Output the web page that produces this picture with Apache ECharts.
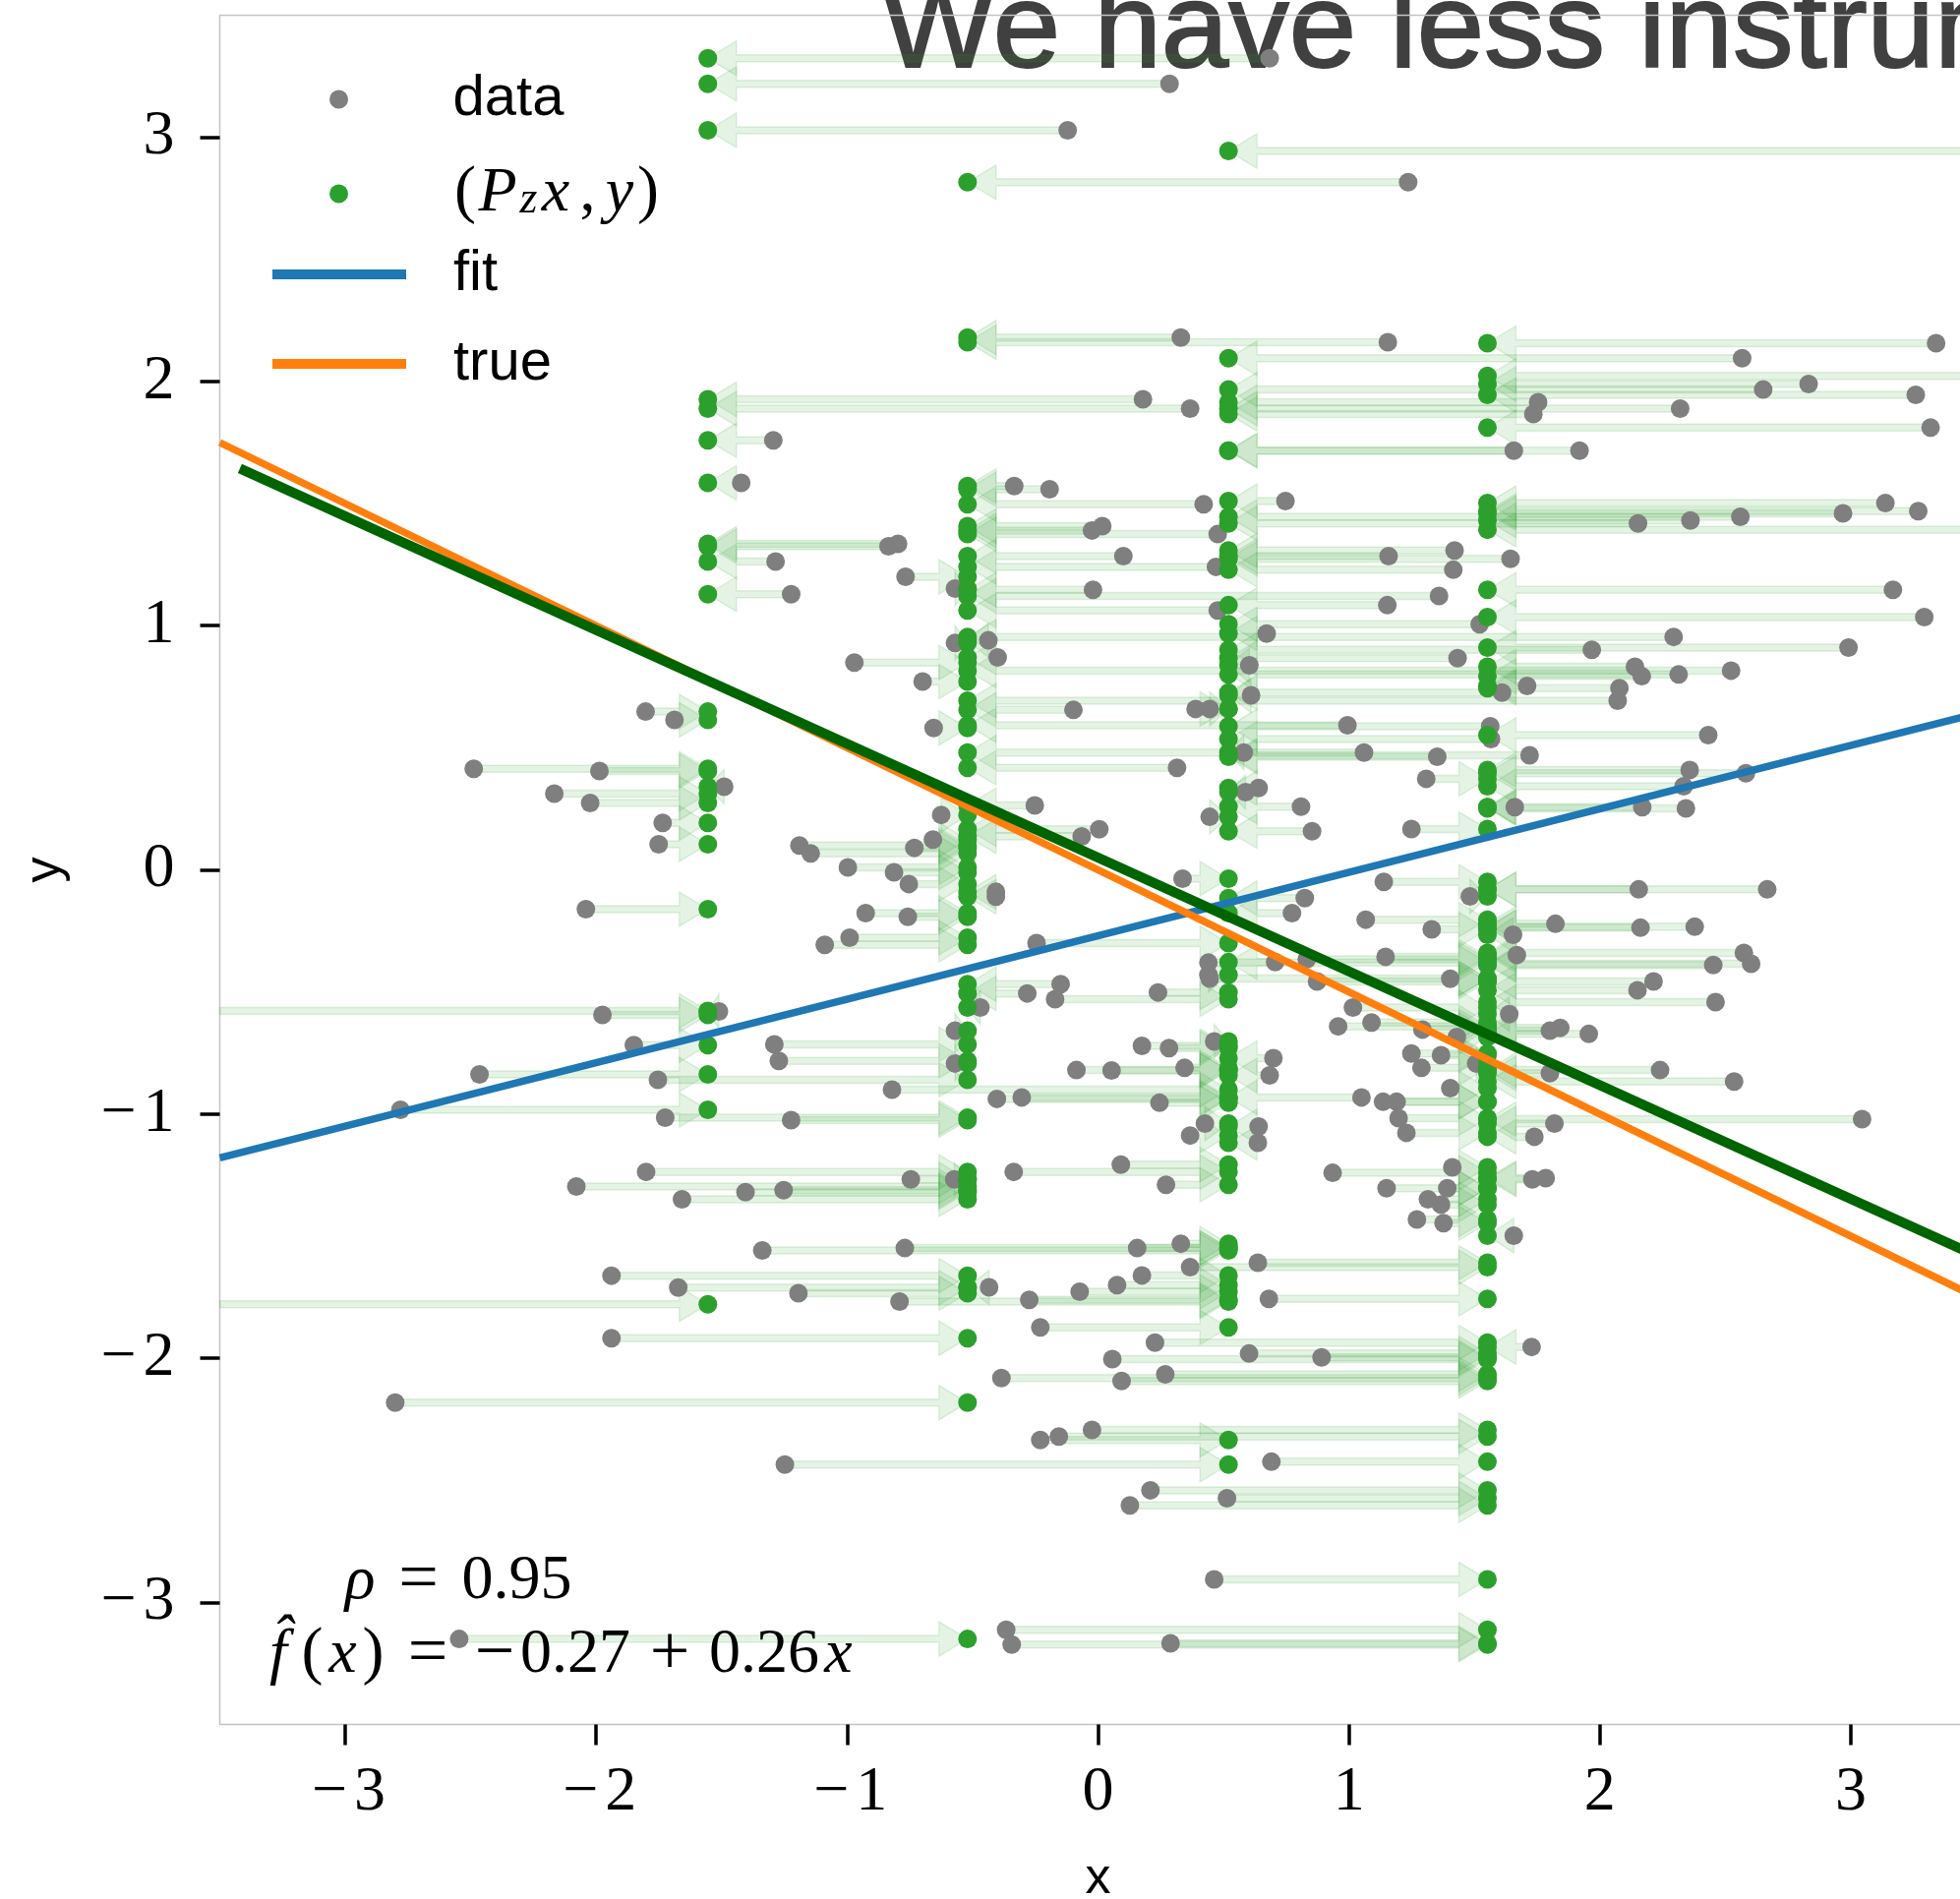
<!DOCTYPE html>
<html>
<head>
<meta charset="utf-8">
<script src="https://cdn.jsdelivr.net/npm/echarts@6/dist/echarts.min.js"></script>
<style>
  html, body { margin: 0; padding: 0; background: #ffffff; }
  #chart { width: 1993px; height: 1931px; }
</style>
</head>
<body>
<div id="chart"></div>
<script>
// Instrument levels: every observation is projected onto one of these x values (P_z x)
const levels = [-1.555, -0.52, 0.52, 1.552];

// Observations (x, y), grouped by the level their projection lands on
const groupA = [
  [0.684, 3.324], [0.285, 3.219], [-0.121, 3.029], [0.179, 1.927], [0.367, 1.889],
  [-1.294, 1.759], [-1.422, 1.585], [-0.835, 1.325], [-0.797, 1.335], [-1.285, 1.263],
  [-1.223, 1.129], [-1.803, 0.648], [-1.688, 0.614], [-2.488, 0.414], [-1.987, 0.405],
  [-1.49, 0.34], [-2.167, 0.312], [-2.024, 0.274], [-1.735, 0.192], [-1.751, 0.105],
  [-2.041, -0.161], [-3.75, -0.578], [-1.975, -0.594], [-1.511, -0.58], [-1.85, -0.718],
  [-2.465, -0.838], [-2.78, -0.983], [-3.8, -1.779]
];
const groupB = [
  [1.236, 2.816], [0.33, 2.18], [1.155, 2.161],
  [-0.334, 1.572], [-0.193, 1.559], [0.421, 1.497], [0.017, 1.408], [-0.024, 1.39],
  [0.477, 1.375], [0.101, 1.285], [0.47, 1.241], [-0.767, 1.2], [-0.57, 1.152],
  [-0.02, 1.147], [1.359, 1.122], [0.477, 1.062], [-0.437, 0.94], [-0.57, 0.929],
  [2.294, 0.954], [-0.4, 0.87], [-0.971, 0.849], [2.523, 0.816], [-0.699, 0.771],
  [2.071, 0.693], [-0.098, 0.655], [-0.655, 0.581], [0.994, 0.592], [1.06, 0.48],
  [0.315, 0.418], [-0.252, 0.264], [-0.625, 0.225], [0.005, 0.166], [-0.065, 0.137],
  [-0.658, 0.124], [-0.732, 0.09], [-1.19, 0.1], [-1.145, 0.067], [-0.997, 0.01],
  [-0.813, -0.01], [-0.754, -0.058], [-0.407, -0.09], [-0.407, -0.11], [-0.926, -0.177],
  [-0.758, -0.192], [-0.99, -0.278], [-1.089, -0.307], [-0.149, -0.468], [-0.282, -0.506],
  [-0.469, -0.564], [-0.57, -0.659], [-1.29, -0.715], [-1.272, -0.782], [-0.57, -0.793],
  [-1.754, -0.86], [-1.725, -1.015], [-1.223, -1.025], [-1.801, -1.237], [-0.746, -1.268],
  [-0.573, -1.268], [-2.079, -1.297], [-1.253, -1.312], [-1.405, -1.32], [-1.658, -1.349],
  [-1.939, -1.662], [-1.673, -1.711], [-0.434, -1.71], [-1.194, -1.734], [-1.939, -1.918],
  [-2.801, -2.182], [-2.546, -3.15]
];
const groupC = [
  [3.7, 2.944], [2.567, 2.095], [2.651, 1.967], [1.754, 1.915], [2.32, 1.889],
  [1.735, 1.867], [1.657, 1.717], [1.919, 1.717], [0.747, 1.51], [2.56, 1.446],
  [2.152, 1.419], [1.421, 1.308], [1.158, 1.285], [1.644, 1.274], [1.416, 1.229],
  [1.153, 1.084], [1.521, 1.006], [0.672, 0.968], [1.968, 0.901], [1.433, 0.867],
  [0.603, 0.838], [2.314, 0.8], [1.61, 0.726], [0.61, 0.715], [0.445, 0.659],
  [0.389, 0.659], [1.563, 0.588], [1.566, 0.536], [0.581, 0.48], [1.72, 0.469],
  [1.352, 0.463], [0.64, 0.335], [0.588, 0.318], [0.809, 0.259], [0.445, 0.217],
  [0.853, 0.158], [0.337, -0.036], [0.824, -0.116], [0.773, -0.177], [-0.245, -0.3],
  [0.706, -0.378], [0.44, -0.43], [0.239, -0.502], [-0.171, -0.53], [0.463, -0.703],
  [0.175, -0.721], [0.283, -0.73], [0.699, -0.771], [0.345, -0.811], [-0.086, -0.82],
  [0.054, -0.822], [0.684, -0.842], [-0.821, -0.9], [-0.403, -0.938], [-0.304, -0.932],
  [1.05, -0.932], [0.245, -0.954], [0.426, -1.039], [0.64, -1.051], [0.367, -1.088],
  [0.637, -1.118], [0.091, -1.207], [-0.336, -1.237], [0.271, -1.29], [0.33, -1.531],
  [-0.77, -1.549], [0.156, -1.549], [-1.338, -1.559], [0.175, -1.661], [-0.073, -1.728],
  [0.076, -1.701], [-0.274, -1.761], [-0.791, -1.768], [-0.23, -1.874], [-0.23, -2.335],
  [-1.248, -2.436]
];
const groupD = [
  [3.34, 2.157], [3.9, 2.023], [2.832, 1.99], [3.259, 1.945], [3.318, 1.811],
  [3.138, 1.502], [3.269, 1.469], [2.969, 1.46], [2.361, 1.431], [3.8, 1.393],
  [3.168, 1.147], [3.293, 1.035], [2.991, 0.91], [2.14, 0.832], [2.167, 0.793],
  [1.71, 0.753], [2.078, 0.744], [2.432, 0.552], [2.358, 0.409], [2.582, 0.396],
  [1.308, 0.373], [2.334, 0.342], [1.661, 0.257], [2.169, 0.257], [2.343, 0.252],
  [1.249, 0.167], [1.139, -0.049], [2.155, -0.08], [2.667, -0.08], [1.482, -0.109],
  [1.067, -0.204], [1.823, -0.221], [2.378, -0.233], [2.162, -0.237], [1.33, -0.244],
  [1.654, -0.266], [2.574, -0.34], [1.669, -0.349], [1.146, -0.356], [0.832, -0.367],
  [0.44, -0.38], [2.603, -0.385], [2.452, -0.39], [0.445, -0.445], [1.404, -0.446],
  [0.873, -0.457], [2.214, -0.457], [2.15, -0.493], [2.461, -0.542], [1.016, -0.564],
  [1.639, -0.591], [1.09, -0.625], [0.957, -0.641], [1.842, -0.647], [1.293, -0.654],
  [1.801, -0.659], [1.956, -0.672], [1.43, -0.685], [1.249, -0.752], [1.367, -0.759],
  [1.507, -0.793], [1.289, -0.811], [2.24, -0.82], [1.801, -0.833], [2.535, -0.867],
  [1.404, -0.894], [1.136, -0.95], [1.19, -0.95], [1.198, -1.017], [3.045, -1.021],
  [1.819, -1.039], [1.229, -1.077], [1.739, -1.093], [1.412, -1.218], [0.935, -1.241],
  [1.784, -1.263], [1.731, -1.268], [1.15, -1.304], [1.392, -1.304], [1.315, -1.349],
  [1.367, -1.371], [1.271, -1.432], [1.377, -1.447], [1.657, -1.498], [0.637, -1.609],
  [0.367, -1.627], [0.681, -1.757], [0.227, -1.936], [1.728, -1.954], [0.602, -1.981],
  [0.891, -1.997], [0.057, -2.004], [0.268, -2.066], [-0.385, -2.081], [0.094, -2.093],
  [-0.024, -2.294], [-0.156, -2.321], [0.691, -2.424], [0.209, -2.541], [0.514, -2.574],
  [0.127, -2.603], [0.463, -2.906], [-0.366, -3.112], [0.289, -3.168], [-0.344, -3.173]
];

// Straight lines: [intercept, slope] and the x span each is drawn over
const fitCoef = [-0.27, 0.26];
const trueCoef = [0, -0.5];
const ivCoef = [0.05, -0.466];
const fullSpan = [-3.5, 3.5];
const ivSpan = [-3.42, 3.6];

// Axis ticks and annotation values
const xTicks = [-3, -2, -1, 0, 1, 2, 3];
const yTicks = [-3, -2, -1, 0, 1, 2, 3];
const rhoValue = '0.95';
const titleText = 'We have less instruments';

// ---- derived series data ----
const groups = [groupA, groupB, groupC, groupD];
const rawPoints = [];
const projected = [];
const arrows = [];
groups.forEach(function (g, k) {
  g.forEach(function (p) {
    rawPoints.push([p[0], p[1]]);
    projected.push([levels[k], p[1]]);
    arrows.push([p[0], p[1], levels[k]]);
  });
});
function linePoints(coef, span) {
  return span.map(function (x) { return [x, coef[0] + coef[1] * x]; });
}
function fmtCoef(v) { return Math.abs(v).toFixed(2); }

const SERIF = '"Liberation Serif", "Times New Roman", serif';
const SANS = '"Liberation Sans", Arial, sans-serif';

const tickRich = {
  m: { fontFamily: SERIF, fontSize: 64, color: '#000', width: 50, align: 'center' },
  n: { fontFamily: SERIF, fontSize: 64, color: '#000' }
};
function tickFormatter(v) {
  return v < 0 ? '{m|\u2212}{n|' + Math.abs(v) + '}' : '{n|' + v + '}';
}

const mathRich = {
  fh: { fontFamily: SERIF, fontStyle: 'italic', fontSize: 64, lineHeight: 70, color: '#000', width: 31 },
  rho: { fontFamily: SERIF, fontStyle: 'italic', fontSize: 64, lineHeight: 70, color: '#000', width: 33, align: 'center' },
  par: { fontFamily: SERIF, fontSize: 66, lineHeight: 70, color: '#000', width: 25, align: 'center' },
  xi: { fontFamily: SERIF, fontStyle: 'italic', fontSize: 64, lineHeight: 70, color: '#000', width: 37, align: 'center' },
  rel: { fontFamily: SERIF, fontSize: 72, lineHeight: 70, color: '#000', width: 86, align: 'center' },
  un: { fontFamily: SERIF, fontSize: 72, lineHeight: 70, color: '#000', width: 50, align: 'center' },
  bin: { fontFamily: SERIF, fontSize: 72, lineHeight: 70, color: '#000', width: 78, align: 'center' },
  num: { fontFamily: SERIF, fontSize: 64, lineHeight: 70, color: '#000', width: 114, align: 'left' }
};

const legendRich = {
  g: { width: 43, lineHeight: 60 },
  lp: { fontFamily: SERIF, fontSize: 66, lineHeight: 60, color: '#000', width: 25, align: 'center' },
  pp: { fontFamily: SERIF, fontStyle: 'italic', fontSize: 64, lineHeight: 60, color: '#000', width: 41, align: 'left' },
  sub: { fontFamily: SERIF, fontStyle: 'italic', fontSize: 46, lineHeight: 22, verticalAlign: 'bottom', color: '#000', width: 22, align: 'left' },
  xx: { fontFamily: SERIF, fontStyle: 'italic', fontSize: 64, lineHeight: 60, color: '#000', width: 33, align: 'left' },
  cm: { fontFamily: SERIF, fontSize: 64, lineHeight: 60, color: '#000', width: 32, align: 'left' },
  yy: { fontFamily: SERIF, fontStyle: 'italic', fontSize: 64, lineHeight: 60, color: '#000', width: 33, align: 'left' },
  rp: { fontFamily: SERIF, fontSize: 66, lineHeight: 60, color: '#000', width: 25, align: 'left' },
  w: { fontFamily: SANS, fontSize: 58, lineHeight: 60, color: '#000' }
};

const chart = echarts.init(document.getElementById('chart'), null, { renderer: 'canvas', width: 1993, height: 1931 });

const option = {
  animation: false,
  backgroundColor: '#ffffff',
  grid: {
    left: 223.5, top: 15.5, width: 1786, height: 1738,
    show: true, borderColor: '#c4c4c4', borderWidth: 1.5, backgroundColor: 'transparent',
    outerBoundsMode: 'none', containLabel: false
  },
  xAxis: {
    type: 'value', min: fullSpan[0], max: fullSpan[1],
    splitLine: { show: false },
    axisLine: { show: false, onZero: false },
    axisTick: { show: true, inside: false, length: 21, lineStyle: { color: '#000', width: 3.5 }, customValues: xTicks },
    axisLabel: { show: true, margin: 38, customValues: xTicks, formatter: tickFormatter, rich: tickRich, fontFamily: SERIF, fontSize: 64, color: '#000' },
    name: 'x', nameLocation: 'middle', nameGap: 131,
    nameTextStyle: { fontFamily: SANS, fontSize: 52, color: '#000' }
  },
  yAxis: {
    type: 'value', min: -3.5, max: 3.5,
    splitLine: { show: false },
    axisLine: { show: false, onZero: false },
    axisTick: { show: true, inside: false, length: 20, lineStyle: { color: '#000', width: 3.5 }, customValues: yTicks },
    axisLabel: { show: true, margin: 46, customValues: yTicks, formatter: tickFormatter, rich: tickRich, fontFamily: SERIF, fontSize: 64, color: '#000' },
    name: 'y', nameLocation: 'middle', nameGap: 152, nameRotate: 90,
    nameTextStyle: { fontFamily: SANS, fontSize: 52, color: '#000' }
  },
  legend: [
    {
      data: ['data', 'Pzx'], orient: 'vertical', left: 335, top: 71, padding: 0,
      itemWidth: 136, itemHeight: 19, itemGap: 33, icon: 'circle', selectedMode: false,
      textStyle: { fontFamily: SANS, fontSize: 58, lineHeight: 60, color: '#000', rich: legendRich },
      formatter: function (name) {
        return name === 'Pzx'
          ? '{g|}{lp|(}{pp|P}{sub|z}{xx|x}{cm|,}{yy|y}{rp|)}'
          : '{g|}{w|' + name + '}';
      }
    },
    {
      data: ['fit', 'true'], orient: 'vertical', left: 277, top: 249, padding: 0,
      itemWidth: 136, itemHeight: 10, itemGap: 31, icon: 'rect', selectedMode: false,
      textStyle: { fontFamily: SANS, fontSize: 58, lineHeight: 60, color: '#000', padding: [0, 0, 0, 43] }
    }
  ],
  graphic: [
    {
      type: 'text', z: -10, silent: true,
      style: {
        x: 896, y: 34, text: titleText, font: '123px ' + SANS, fill: '#404040',
        stroke: '#404040', lineWidth: 2, verticalAlign: 'middle', align: 'left'
      }
    },
    {
      type: 'text', z: 100, silent: true,
      style: {
        x: 349.5, y: 1608, verticalAlign: 'middle', align: 'left',
        text: '{rho|\u03C1}{rel|=}{num|' + rhoValue + '}', rich: mathRich
      }
    },
    {
      type: 'text', z: 100, silent: true,
      style: {
        x: 274, y: 1683, verticalAlign: 'middle', align: 'left',
        text: '{fh|f\u0302}{par|(}{xi|x}{par|)}{rel|=}' +
              (fitCoef[0] < 0 ? '{un|\u2212}' : '') + '{num|' + fmtCoef(fitCoef[0]) + '}' +
              '{bin|' + (fitCoef[1] < 0 ? '\u2212' : '+') + '}{num|' + fmtCoef(fitCoef[1]) + '}{xi|x}',
        rich: mathRich
      }
    }
  ],
  series: [
    {
      name: 'arrows', type: 'custom', coordinateSystem: 'cartesian2d', silent: true, z: 1,
      encode: { x: [0, 2], y: 1 },
      data: arrows,
      renderItem: function (params, api) {
        const y = api.value(1);
        const p0 = api.coord([api.value(0), y]);
        const p1 = api.coord([api.value(2), y]);
        const cs = params.coordSys;
        const dir = p1[0] >= p0[0] ? 1 : -1;
        const len = Math.abs(p1[0] - p0[0]);
        const headLen = Math.min(29, len);
        const headHalf = 17.5;
        const shaftHalf = 3.5;
        const baseX = p1[0] - dir * headLen;
        const startX = Math.max(cs.x, Math.min(cs.x + cs.width, p0[0]));
        const cy = p1[1];
        return {
          type: 'polygon',
          shape: { points: [
            [startX, cy - shaftHalf], [baseX, cy - shaftHalf], [baseX, cy - headHalf],
            [p1[0], cy], [baseX, cy + headHalf], [baseX, cy + shaftHalf], [startX, cy + shaftHalf]
          ] },
          style: { fill: 'rgba(44,160,44,0.12)', stroke: 'rgba(44,160,44,0.14)', lineWidth: 1.5 }
        };
      }
    },
    {
      name: 'data', type: 'scatter', data: rawPoints, symbol: 'circle', symbolSize: 19,
      itemStyle: { color: '#7f7f7f', opacity: 1 }, clip: true, silent: true, z: 2
    },
    {
      name: 'Pzx', type: 'scatter', data: projected, symbol: 'circle', symbolSize: 19,
      itemStyle: { color: '#2ca02c', opacity: 1 }, clip: true, silent: true, z: 3
    },
    {
      name: 'fit', type: 'line', data: linePoints(fitCoef, fullSpan), symbol: 'none', showSymbol: false,
      color: '#1f77b4', lineStyle: { color: '#1f77b4', width: 7.5 }, clip: true, silent: true, z: 4
    },
    {
      name: 'true', type: 'line', data: linePoints(trueCoef, fullSpan), symbol: 'none', showSymbol: false,
      color: '#ff7f0e', lineStyle: { color: '#ff7f0e', width: 7.5 }, clip: true, silent: true, z: 5
    },
    {
      name: 'IV', type: 'line', data: linePoints(ivCoef, ivSpan), symbol: 'none', showSymbol: false,
      color: '#006400', lineStyle: { color: '#006400', width: 10 }, clip: true, silent: true, z: 6
    }
  ]
};

chart.setOption(option);
</script>
</body>
</html>
